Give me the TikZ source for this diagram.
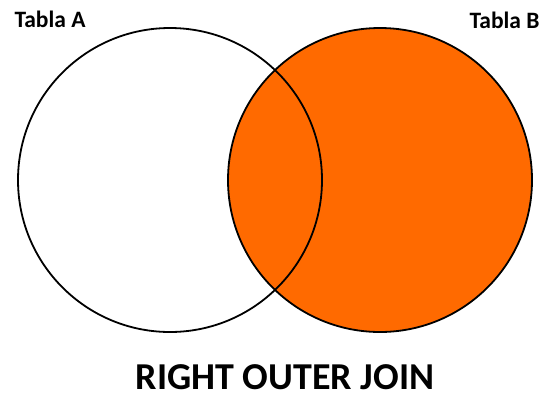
\documentclass[tikz,border=0pt]{standalone}
\usepackage{fontspec}
\setmainfont{Carlito}
\definecolor{joinorange}{HTML}{FF6A00}
\begin{document}
\begin{tikzpicture}[
  x=1pt, y=-1pt,
  set/.style={circle,draw=black,line width=1.8pt,minimum size=304pt,inner sep=0pt},
  hi/.style={fill=joinorange},
  setlabel/.style={font=\fontsize{23.5}{26}\selectfont\bfseries,inner sep=0pt,anchor=base},
  title/.style={font=\fontsize{38}{44}\selectfont\bfseries,inner sep=0pt,anchor=base,text depth=0pt}]
\useasboundingbox (0,0) rectangle (546,397);
% right table first, so the outline of A stays on top
\node[set,hi] (tablaB) at (380,180) {};
\node[set] (tablaA) at (170,180) {};
\node[setlabel] (labelA) at (50,27.5) {Tabla A};
\node[setlabel] (labelB) at (504.5,28) {Tabla B};
\node[title] (join) at (285,389) {RIGHT OUTER JOIN};
\end{tikzpicture}
\end{document}
